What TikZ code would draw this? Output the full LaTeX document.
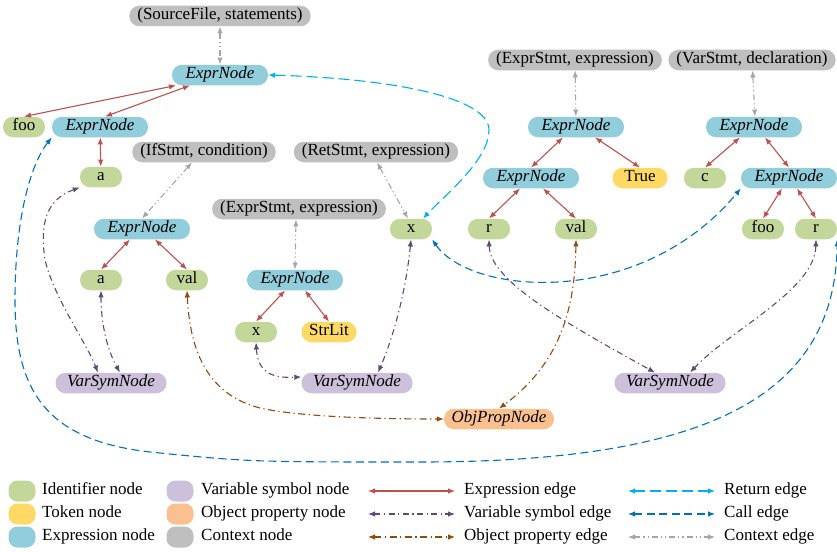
\documentclass[tikz,border=0pt]{standalone}
\usepackage{fontspec}
\setmainfont{Liberation Serif}
\usetikzlibrary{arrows.meta}
\definecolor{idc}{HTML}{C4D79B}
\definecolor{tokc}{HTML}{FFD966}
\definecolor{exprc}{HTML}{92CDDC}
\definecolor{vsymc}{HTML}{CCC0DA}
\definecolor{opc}{HTML}{FAC090}
\definecolor{ctxc}{HTML}{BFBFBF}
\definecolor{expec}{HTML}{C0504D}
\definecolor{vsec}{HTML}{5F497A}
\definecolor{opec}{HTML}{984807}
\definecolor{retec}{HTML}{00B0F0}
\definecolor{callec}{HTML}{0070C0}
\definecolor{ctxec}{HTML}{A6A6A6}
\begin{document}
\begin{tikzpicture}[x=1pt,y=-1pt,font=\fontsize{17}{20}\selectfont,
  nd/.style={rounded corners=10pt,minimum height=20.5pt,inner ysep=0pt,inner xsep=4pt,text height=11.5pt,text depth=4pt},
  idn/.style={nd,fill=idc,minimum width=42pt},
  tokn/.style={nd,fill=tokc,minimum width=55pt},
  exprn/.style={nd,fill=exprc,minimum width=96pt,font=\fontsize{17}{20}\selectfont\itshape},
  vsymn/.style={nd,fill=vsymc,minimum width=111pt,font=\fontsize{17}{20}\selectfont\itshape},
  opn/.style={nd,fill=opc,minimum width=110pt,font=\fontsize{17}{20}\selectfont\itshape},
  ctxn/.style={nd,fill=ctxc,inner xsep=8pt},
  swatch/.style={rounded corners=9pt,minimum width=27pt,minimum height=21pt,inner sep=0pt},
  legtext/.style={anchor=west,inner sep=0pt,text height=11.5pt,text depth=4pt},
  tip/.style={{Latex[length=7pt,width=5.5pt]}-{Latex[length=7pt,width=5.5pt]}},
  expe/.style={tip,draw=expec,line width=1.1pt},
  vse/.style={tip,draw=vsec,line width=1.1pt,dash pattern=on 6pt off 3.5pt on 1.2pt off 3.5pt},
  ope/.style={tip,draw=opec,line width=1.1pt,dash pattern=on 7pt off 3.5pt on 1.2pt off 3.5pt},
  rete/.style={tip,draw=retec,line width=1.1pt,dash pattern=on 11pt off 5pt},
  calle/.style={tip,draw=callec,line width=1.1pt,dash pattern=on 8pt off 4.5pt},
  ctxe/.style={tip,draw=ctxec,line width=1.1pt,dash pattern=on 6pt off 3pt on 1.2pt off 3pt on 1.2pt off 3pt},
]
\useasboundingbox (0,0) rectangle (837,551);

% nodes
\node[ctxn] (sf) at (220,16) {(SourceFile, statements)};
\node[exprn] (e1) at (220,75) {ExprNode};
\node[idn] (foo1) at (24,127) {foo};
\node[exprn] (e2) at (100,127) {ExprNode};
\node[idn] (a1) at (101,177) {a};
\node[ctxn] (ifs) at (204,152) {(IfStmt, condition)};
\node[ctxn] (rs) at (376,152) {(RetStmt, expression)};
\node[ctxn] (ms) at (299,209) {(ExprStmt, expression)};
\node[exprn] (e3) at (142,229) {ExprNode};
\node[idn] (xm) at (411,229) {x};
\node[idn] (a2) at (101,280) {a};
\node[idn] (val1) at (187,280) {val};
\node[exprn] (e4) at (295,280) {ExprNode};
\node[idn] (x2) at (256,332) {x};
\node[tokn] (sl) at (329,332) {StrLit};
\node[vsymn] (vs1) at (111,383) {VarSymNode};
\node[vsymn] (vs2) at (357,383) {VarSymNode};
\node[ctxn] (es2) at (575,60) {(ExprStmt, expression)};
\node[ctxn] (vst) at (752,60) {(VarStmt, declaration)};
\node[exprn] (e5) at (576,127) {ExprNode};
\node[exprn] (e6) at (754,127) {ExprNode};
\node[exprn] (e7) at (531,178) {ExprNode};
\node[tokn] (tru) at (640,178) {True};
\node[idn] (c1) at (705,178) {c};
\node[exprn] (e8) at (789,178) {ExprNode};
\node[idn] (r1) at (489,229) {r};
\node[idn] (val2) at (576,229) {val};
\node[idn] (foo2) at (763,229) {foo};
\node[idn] (r2) at (816,229) {r};
\node[vsymn] (vs3) at (670,383) {VarSymNode};
\node[opn] (op) at (499,419) {ObjPropNode};

% context edges
\draw[ctxe] (sf) -- (e1);
\draw[ctxe] ([xshift=-12pt]ifs.south) -- (e3.north);
\draw[ctxe] ([xshift=1pt]rs.south) -- ([xshift=-3pt]xm.north);
\draw[ctxe] ([xshift=-3pt]ms.south) -- (e4.north);
\draw[ctxe] (es2) -- (e5);
\draw[ctxe] (vst) -- ([xshift=1pt]e6.north);

% expression edges
\draw[expe] ([xshift=-44pt]e1.south) -- (foo1.north);
\draw[expe] ([xshift=-30pt]e1.south) -- ([xshift=5pt]e2.north);
\draw[expe] (e2) -- (a1);
\draw[expe] ([xshift=-12pt]e3.south) -- (a2.north);
\draw[expe] ([xshift=13pt]e3.south) -- (val1.north);
\draw[expe] ([xshift=-10pt]e4.south) -- (x2.north);
\draw[expe] ([xshift=10pt]e4.south) -- (sl.north);
\draw[expe] ([xshift=-13pt]e5.south) -- (e7.north);
\draw[expe] ([xshift=19pt]e5.south) -- (tru.north);
\draw[expe] ([xshift=-11pt]e7.south) -- (r1.north);
\draw[expe] ([xshift=12pt]e7.south) -- (val2.north);
\draw[expe] ([xshift=-14pt]e6.south) -- (c1.north);
\draw[expe] ([xshift=11pt]e6.south) -- (e8.north);
\draw[expe] ([xshift=-7pt]e8.south) -- (foo2.north);
\draw[expe] ([xshift=8pt]e8.south) -- (r2.north);

% return edge
\draw[rete] (e1.east) .. controls (380,78) and (489,95) .. (489,130)
  .. controls (489,160) and (445,195) .. ([xshift=12pt]xm.north);

% call edges
\draw[calle] (e2.south west) .. controls (30,165) and (15,220) .. (15,300)
  .. controls (15,390) and (45,440) .. (150,452)
  .. controls (250,462) .. (420,462)
  .. controls (700,462) and (835,400) .. (r2.south east);
\draw[calle] (xm.south east) .. controls (470,295) and (640,310) .. (e8.south west);

% variable symbol edges
\draw[vse] (a1.south west) .. controls (45,200) and (40,225) .. (45,260)
  .. controls (55,300) and (85,340) .. ([xshift=-13pt]vs1.north);
\draw[vse] (a2.south) .. controls (101,330) and (110,355) .. ([xshift=9pt]vs1.north);
\draw[vse] (x2.south) .. controls (258,375) and (275,378) .. ([yshift=6pt]vs2.west);
\draw[vse] (xm.south) .. controls (405,300) and (390,345) .. ([xshift=21pt]vs2.north);
\draw[vse] (r1.south) .. controls (490,280) and (560,320) .. ([xshift=-15pt]vs3.north);
\draw[vse] (r2.south) .. controls (815,290) and (730,330) .. ([xshift=20pt]vs3.north);

% object property edges
\draw[ope] (val1.south) .. controls (190,355) and (210,395) .. (260,408)
  .. controls (300,417) and (380,419) .. (op.west);
\draw[ope] (val2.south) .. controls (575,300) and (565,360) .. (op.north);

% legend
\node[swatch,fill=idc] (s1) at (22,491) {};
\node[swatch,fill=tokc] (s2) at (22,514) {};
\node[swatch,fill=exprc] (s3) at (22,537) {};
\node[swatch,fill=vsymc] (s4) at (180,491) {};
\node[swatch,fill=opc] (s5) at (180,514) {};
\node[swatch,fill=ctxc] (s6) at (180,537) {};
\node[legtext] (t1) at (42,491) {Identifier node};
\node[legtext] (t2) at (42,514) {Token node};
\node[legtext] (t3) at (42,537) {Expression node};
\node[legtext] (t4) at (201,491) {Variable symbol node};
\node[legtext] (t5) at (201,514) {Object property node};
\node[legtext] (t6) at (201,537) {Context node};

\coordinate (la1) at (368,491); \coordinate (lb1) at (455,491);
\coordinate (la2) at (368,514); \coordinate (lb2) at (455,514);
\coordinate (la3) at (368,537); \coordinate (lb3) at (455,537);
\coordinate (la4) at (628,491); \coordinate (lb4) at (715,491);
\coordinate (la5) at (628,514); \coordinate (lb5) at (715,514);
\coordinate (la6) at (628,537); \coordinate (lb6) at (715,537);
\draw[expe] (la1) -- (lb1);
\draw[vse] (la2) -- (lb2);
\draw[ope] (la3) -- (lb3);
\draw[rete] (la4) -- (lb4);
\draw[calle] (la5) -- (lb5);
\draw[ctxe] (la6) -- (lb6);
\node[legtext] (t7) at (464,491) {Expression edge};
\node[legtext] (t8) at (464,514) {Variable symbol edge};
\node[legtext] (t9) at (464,537) {Object property edge};
\node[legtext] (t10) at (724,491) {Return edge};
\node[legtext] (t11) at (724,514) {Call edge};
\node[legtext] (t12) at (724,537) {Context edge};
\end{tikzpicture}
\end{document}
